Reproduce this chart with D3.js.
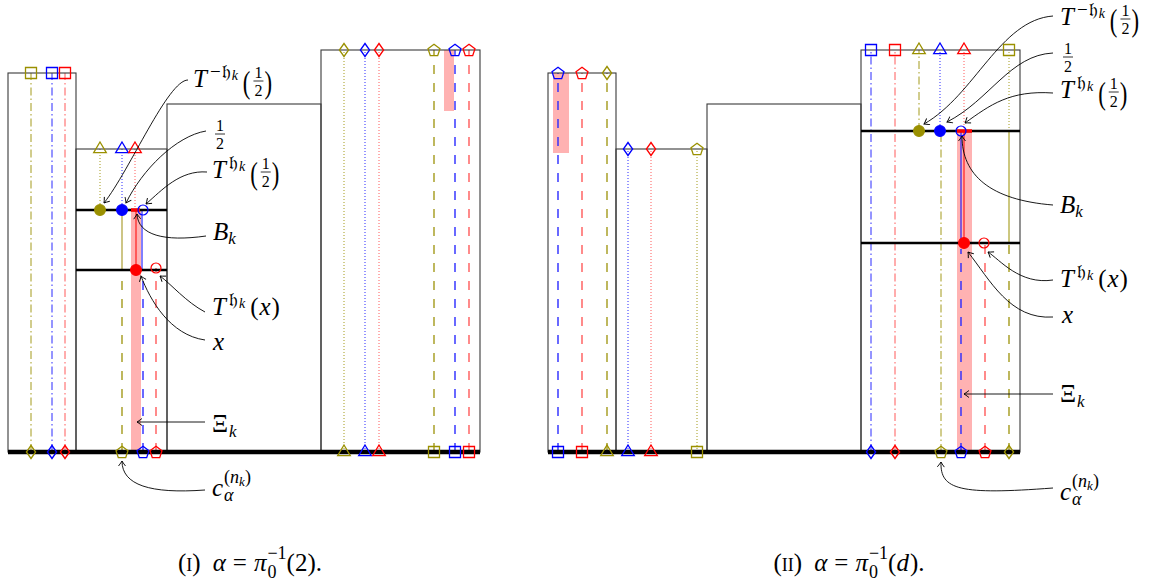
<!doctype html>
<html>

<head>
<meta charset="utf-8">
<style>
	body { margin: 0; background: #fff; }
	text { font-family: "Liberation Serif", "DejaVu Serif", serif; fill: #000; white-space: pre; }
</style>
</head>

<body>
	<div class="figure"></div>

	<script src="https://d3js.org/d3.v7.min.js"></script>
	<script>
		// tower columns (same staircase in both panels): x from left wall, h above the base
		let columns = [
			{ x0: 0, x1: 68, h: 379 },
			{ x0: 68, x1: 159, h: 303 },
			{ x0: 159, x1: 313, h: 348 },
			{ x0: 313, x1: 472, h: 402 }
		];

		// thick horizontal levels
		let levelsI = [{ x0: 68, x1: 159, h: 242 }, { x0: 68, x1: 159, h: 182 }];
		let levelsII = [{ x0: 313, x1: 472, h: 321 }, { x0: 313, x1: 472, h: 209 }];

		// vertical strings: x, from h0 to h1, colour, line style
		let stringsI = [
			{ x: 23, h0: 0, h1: 379, c: "olive", s: "dashdot" },
			{ x: 44, h0: 0, h1: 379, c: "blue", s: "dashdot" },
			{ x: 57, h0: 0, h1: 379, c: "red", s: "dashdot" },
			{ x: 92, h0: 242, h1: 303, c: "olive", s: "dotted" },
			{ x: 114, h0: 242, h1: 303, c: "blue", s: "dotted" },
			{ x: 127, h0: 242, h1: 303, c: "red", s: "dotted" },
			{ x: 114, h0: 182, h1: 242, c: "olive", s: "pale" },
			{ x: 128, h0: 182, h1: 242, c: "red", s: "solid" },
			{ x: 134, h0: 182, h1: 242, c: "blue", s: "solid" },
			{ x: 114, h0: 0, h1: 176, c: "olive", s: "dashed" },
			{ x: 135, h0: 0, h1: 176, c: "blue", s: "dashed" },
			{ x: 148, h0: 0, h1: 184, c: "red", s: "dashed" },
			{ x: 336, h0: 0, h1: 402, c: "olive", s: "dotted" },
			{ x: 357, h0: 0, h1: 402, c: "blue", s: "dotted" },
			{ x: 371, h0: 0, h1: 402, c: "red", s: "dotted" },
			{ x: 426, h0: 0, h1: 402, c: "olive", s: "dashed" },
			{ x: 447, h0: 0, h1: 402, c: "blue", s: "dashed" },
			{ x: 461, h0: 0, h1: 402, c: "red", s: "dashed" }
		];
		let stringsII = [
			{ x: 10, h0: 0, h1: 379, c: "blue", s: "dashed" },
			{ x: 34, h0: 0, h1: 379, c: "red", s: "dashed" },
			{ x: 59, h0: 0, h1: 379, c: "olive", s: "dashed" },
			{ x: 80, h0: 0, h1: 303, c: "blue", s: "dotted" },
			{ x: 103, h0: 0, h1: 303, c: "red", s: "dotted" },
			{ x: 149, h0: 0, h1: 303, c: "olive", s: "dotted" },
			{ x: 323, h0: 0, h1: 402, c: "blue", s: "dashdot" },
			{ x: 347, h0: 0, h1: 402, c: "red", s: "dashdot" },
			{ x: 371, h0: 321, h1: 402, c: "olive", s: "dashdot" },
			{ x: 392, h0: 321, h1: 402, c: "blue", s: "dotted" },
			{ x: 416, h0: 321, h1: 402, c: "red", s: "dotted" },
			{ x: 461, h0: 321, h1: 402, c: "olive", s: "dotted" },
			{ x: 461, h0: 209, h1: 321, c: "olive", s: "solid" },
			{ x: 461, h0: 0, h1: 209, c: "olive", s: "dashed" },
			{ x: 393, h0: 0, h1: 321, c: "olive", s: "dashdot" },
			{ x: 413, h0: 209, h1: 321, c: "blue", s: "solid" },
			{ x: 416, h0: 209, h1: 321, c: "red", s: "solid" },
			{ x: 413, h0: 0, h1: 203, c: "blue", s: "dashed" },
			{ x: 437, h0: 0, h1: 209, c: "red", s: "dashed" }
		];

		// end markers of the strings
		let markersI = [
			{ x: 23, h: 379, m: "square", c: "olive" }, { x: 44, h: 379, m: "square", c: "blue" }, { x: 57, h: 379, m: "square", c: "red" },
			{ x: 23, h: 0, m: "diamond", c: "olive" }, { x: 44, h: 0, m: "diamond", c: "blue" }, { x: 57, h: 0, m: "diamond", c: "red" },
			{ x: 92, h: 303, m: "triangle", c: "olive" }, { x: 114, h: 303, m: "triangle", c: "blue" }, { x: 127, h: 303, m: "triangle", c: "red" },
			{ x: 114, h: 0, m: "pentagon", c: "olive" }, { x: 135, h: 0, m: "pentagon", c: "blue" }, { x: 148, h: 0, m: "pentagon", c: "red" },
			{ x: 336, h: 402, m: "diamond", c: "olive" }, { x: 357, h: 402, m: "diamond", c: "blue" }, { x: 371, h: 402, m: "diamond", c: "red" },
			{ x: 426, h: 402, m: "pentagon", c: "olive" }, { x: 447, h: 402, m: "pentagon", c: "blue" }, { x: 461, h: 402, m: "pentagon", c: "red" },
			{ x: 336, h: 0, m: "triangle", c: "olive" }, { x: 357, h: 0, m: "triangle", c: "blue" }, { x: 371, h: 0, m: "triangle", c: "red" },
			{ x: 426, h: 0, m: "square", c: "olive" }, { x: 447, h: 0, m: "square", c: "blue" }, { x: 461, h: 0, m: "square", c: "red" }
		];
		let markersII = [
			{ x: 10, h: 379, m: "pentagon", c: "blue" }, { x: 34, h: 379, m: "pentagon", c: "red" }, { x: 59, h: 379, m: "diamond", c: "olive" },
			{ x: 10, h: 0, m: "square", c: "blue" }, { x: 34, h: 0, m: "square", c: "red" }, { x: 59, h: 0, m: "triangle", c: "olive" },
			{ x: 80, h: 303, m: "diamond", c: "blue" }, { x: 103, h: 303, m: "diamond", c: "red" }, { x: 149, h: 303, m: "pentagon", c: "olive" },
			{ x: 80, h: 0, m: "triangle", c: "blue" }, { x: 103, h: 0, m: "triangle", c: "red" }, { x: 149, h: 0, m: "square", c: "olive" },
			{ x: 323, h: 402, m: "square", c: "blue" }, { x: 347, h: 402, m: "square", c: "red" }, { x: 371, h: 402, m: "triangle", c: "olive" },
			{ x: 392, h: 402, m: "triangle", c: "blue" }, { x: 416, h: 402, m: "triangle", c: "red" }, { x: 461, h: 402, m: "square", c: "olive" },
			{ x: 323, h: 0, m: "diamond", c: "blue" }, { x: 347, h: 0, m: "diamond", c: "red" }, { x: 393, h: 0, m: "pentagon", c: "olive" },
			{ x: 413, h: 0, m: "pentagon", c: "blue" }, { x: 437, h: 0, m: "pentagon", c: "red" }, { x: 461, h: 0, m: "diamond", c: "olive" }
		];

		// points on the levels (filled / open)
		let dotsI = [
			{ x: 92, h: 242, c: "olive", open: false }, { x: 114, h: 242, c: "blue", open: false },
			{ x: 135, h: 242, c: "blue", open: true }, { x: 128, h: 182, c: "red", open: false },
			{ x: 148, h: 184, c: "red", open: true }
		];
		let dotsII = [
			{ x: 371, h: 321, c: "olive", open: false }, { x: 392, h: 321, c: "blue", open: false },
			{ x: 413, h: 321, c: "blue", open: true }, { x: 416, h: 209, c: "red", open: false },
			{ x: 436, h: 209, c: "red", open: true }
		];

		// B_k pieces and the shaded bands
		let barsI = [{ x0: 123, x1: 132, h: 242 }];
		let barsII = [{ x0: 409, x1: 424, h: 321 }];
		let bandsI = [{ x0: 123, x1: 133, h0: 0, h1: 242 }, { x0: 436, x1: 446, h0: 341, h1: 402 }];
		let bandsII = [{ x0: 5, x1: 21, h0: 299, h1: 379 }, { x0: 409, x1: 424, h0: 0, h1: 321 }];

		// callouts: label position and arrow (start, two controls, tip) in tower units
		let calloutsI = [
			{ k: "Tinv", at: [185, 365], p: [[180, 372], [160, 372], [122, 282], [96, 249]] },
			{ k: "half", at: [207, 318], p: [[198, 321], [168, 316], [134, 282], [118, 249]] },
			{ k: "Tfwd", at: [204, 274], p: [[199, 280], [172, 282], [154, 262], [138, 248]] },
			{ k: "Bk", at: [205, 212], p: [[198, 216], [156, 210], [130, 217], [129, 238]] },
			{ k: "TfwdX", at: [204, 137], p: [[197, 140], [178, 150], [163, 168], [152, 176]] },
			{ k: "x", at: [205, 102], p: [[197, 112], [162, 117], [142, 152], [133, 176]] },
			{ k: "Xi", at: [204, 20], p: [[197, 30], null, null, [129, 30]] },
			{ k: "c", at: [204, -44], p: [[197, -38], [142, -42], [114, -33], [114, -9]] }
		];
		let calloutsII = [
			{ k: "Tinv", at: [512, 427], p: [[505, 436], [452, 432], [427, 357], [376, 328]] },
			{ k: "half", at: [515, 395], p: [[505, 399], [462, 397], [442, 352], [399, 330]] },
			{ k: "Tfwd", at: [512, 354], p: [[505, 359], [462, 362], [442, 347], [417, 329]] },
			{ k: "Bk", at: [512, 239], p: [[505, 247], [442, 252], [414, 277], [414, 316]] },
			{ k: "TfwdX", at: [512, 165], p: [[505, 172], [472, 167], [452, 192], [440, 200]] },
			{ k: "x", at: [514, 129], p: [[505, 135], [462, 132], [442, 172], [420, 200]] },
			{ k: "Xi", at: [512, 50], p: [[505, 58], null, null, [416, 58]] },
			{ k: "c", at: [512, -48], p: [[505, -36], [412, -43], [392, -38], [393, -10]] }
		];

		let ink = { olive: "#9a9000", blue: "#0000ff", red: "#ff0000" };
		let thread = { olive: "#a39a1a", blue: "#2a2aff", red: "#ff5a5a" };
		let dashes = { dashdot: "8,3,1.5,3", dashed: "9,9", dotted: "1,2", solid: null, pale: null };
		let serif = '"Liberation Serif", "DejaVu Serif", serif';

		let svg = d3.select(".figure")
			.append("svg")
			.attr("width", 1162)
			.attr("height", 585)
			.style("background-color", "white");

		svg.append("defs").append("marker")
			.attr("id", "tip")
			.attr("markerUnits", "userSpaceOnUse")
			.attr("markerWidth", 12).attr("markerHeight", 12)
			.attr("refX", 0).attr("refY", 0)
			.attr("viewBox", "-7 -6 8 12")
			.attr("orient", "auto")
			.append("path")
			.attr("d", "M-5,-3.5 Q-1.5,-0.8 0,0 Q-1.5,0.8 -5,3.5")
			.attr("fill", "none").attr("stroke", "#000").attr("stroke-width", 0.9);

		let y = d3.scaleLinear().domain([0, 402]).range([452, 50]);

		let panels = [
			{ x: d3.scaleLinear().domain([0, 472]).range([8, 480]), levels: levelsI, strings: stringsI, markers: markersI, dots: dotsI, bars: barsI, bands: bandsI, callouts: calloutsI },
			{ x: d3.scaleLinear().domain([0, 472]).range([548, 1020]), levels: levelsII, strings: stringsII, markers: markersII, dots: dotsII, bars: barsII, bands: bandsII, callouts: calloutsII }
		];

		function shape(m) {
			if (m === "square") return "M-5.5,-5.5H5.5V5.5H-5.5Z";
			if (m === "diamond") return "M0,-6.5L4.6,0L0,6.5L-4.6,0Z";
			if (m === "triangle") return "M0,-7L6.3,3.6L-6.3,3.6Z";
			let pts = d3.range(5).map(i => {
				let a = -Math.PI / 2 + i * 2 * Math.PI / 5;
				return [6.3 * Math.cos(a), 0.6 + 6.3 * Math.sin(a)];
			});
			return "M" + pts.map(p => p.join(",")).join("L") + "Z";
		}

		// little typesetter: pieces laid out left to right, returns end x
		function typeset(g, x0, base, pieces) {
			let cx = x0;
			pieces.forEach(p => {
				if (p.gap) { cx += p.gap; return; }
				if (p.frac) {
					let axis = base + (p.dy || 0);
					let num = g.append("text").attr("y", axis - 3.5).style("font-family", serif).style("font-size", p.size + "px").text(p.frac[0]);
					let den = g.append("text").attr("y", axis + 15).style("font-family", serif).style("font-size", p.size + "px").text(p.frac[1]);
					let w = Math.max(num.node().getComputedTextLength(), den.node().getComputedTextLength()) + 2;
					num.attr("x", cx + w / 2).attr("text-anchor", "middle");
					den.attr("x", cx + w / 2).attr("text-anchor", "middle");
					g.append("line").attr("x1", cx).attr("x2", cx + w).attr("y1", axis).attr("y2", axis)
						.attr("stroke", "#000").attr("stroke-width", 0.8);
					cx += w + 1;
					return;
				}
				if (p.stack) {
					let a = typeset(g, cx, base, p.stack[0]);
					let b = typeset(g, cx, base, p.stack[1]);
					cx = Math.max(a, b);
					return;
				}
				let t = g.append("text")
					.style("font-family", serif)
					.style("font-size", p.size + "px")
					.style("font-style", p.it ? "italic" : "normal")
					.text(p.t);
				if (p.sy) {
					t.attr("transform", `translate(${cx},${base + (p.dy || 0)}) scale(${p.sx},${p.sy})`);
					cx += t.node().getComputedTextLength() * p.sx + (p.kern || 0);
				} else {
					t.attr("x", cx).attr("y", base + (p.dy || 0));
					cx += t.node().getComputedTextLength() + (p.kern || 0);
				}
			});
			return cx;
		}

		let bigOpen = { t: "(", size: 24, sx: 0.95, sy: 1.3, dy: 6, kern: 3 };
		let bigClose = { t: ")", size: 24, sx: 0.95, sy: 1.3, dy: 6 };
		let half = { frac: ["1", "2"], size: 16, dy: -6 };
		let hk = [{ t: "\u{1D525}", size: 19, dy: -9, kern: 1 }, { t: "k", size: 14, it: true, dy: -7, kern: 5 }];
		let labels = {
			Tinv: [{ t: "T", size: 25, it: true, kern: 3 }, { t: "\u2212", size: 19, dy: -9, kern: 1 }].concat(hk, [bigOpen, half, bigClose]),
			half: [{ frac: ["1", "2"], size: 16, dy: 0 }],
			Tfwd: [{ t: "T", size: 25, it: true, kern: 3 }].concat(hk, [bigOpen, half, bigClose]),
			Bk: [{ t: "B", size: 25, it: true }, { t: "k", size: 17, it: true, dy: 4 }],
			TfwdX: [{ t: "T", size: 25, it: true, kern: 3 }].concat(hk, [{ t: "(", size: 25, kern: 1 }, { t: "x", size: 25, it: true, kern: 1 }, { t: ")", size: 25 }]),
			x: [{ t: "x", size: 25, it: true }],
			Xi: [{ t: "\u039E", size: 25, kern: 1 }, { t: "k", size: 17, it: true, dy: 5 }],
			c: [{ t: "c", size: 25, it: true, kern: 1 }, {
				stack: [
					[{ t: "(", size: 18, dy: -13 }, { t: "n", size: 18, it: true, dy: -13 }, { t: "k", size: 13, it: true, dy: -10 }, { t: ")", size: 18, dy: -13 }],
					[{ t: "\u03B1", size: 18, it: true, dy: 5 }]
				]
			}]
		};

		panels.forEach(P => {
			let x = P.x;
			let g = svg.append("g");

			g.selectAll(".band").data(P.bands).enter().append("rect")
				.attr("x", d => x(d.x0)).attr("width", d => x(d.x1) - x(d.x0))
				.attr("y", d => y(d.h1)).attr("height", d => y(d.h0) - y(d.h1))
				.attr("fill", "#ffb2b2");

			g.selectAll(".string").data(P.strings).enter().append("line")
				.attr("x1", d => x(d.x)).attr("x2", d => x(d.x))
				.attr("y1", d => y(d.h0)).attr("y2", d => y(d.h1))
				.attr("stroke", d => d.s === "pale" ? "#cdc585" : (d.s === "solid" ? ink[d.c] : thread[d.c]))
				.attr("stroke-width", d => d.s === "pale" ? 2 : (d.s === "dashed" ? 1.4 : 1))
				.attr("stroke-dasharray", d => dashes[d.s]);

			g.selectAll(".col").data(columns).enter().append("rect")
				.attr("x", d => x(d.x0)).attr("width", d => x(d.x1) - x(d.x0))
				.attr("y", d => y(d.h)).attr("height", d => y(0) - y(d.h))
				.attr("fill", "none").attr("stroke", "#3a3a3a").attr("stroke-width", 1.1);

			g.selectAll(".level").data(P.levels).enter().append("line")
				.attr("x1", d => x(d.x0)).attr("x2", d => x(d.x1))
				.attr("y1", d => y(d.h)).attr("y2", d => y(d.h))
				.attr("stroke", "#000").attr("stroke-width", 2.5);

			g.append("line")
				.attr("x1", x(0)).attr("x2", x(472)).attr("y1", y(0)).attr("y2", y(0))
				.attr("stroke", "#000").attr("stroke-width", 4.5);

			g.selectAll(".bar").data(P.bars).enter().append("line")
				.attr("x1", d => x(d.x0)).attr("x2", d => x(d.x1))
				.attr("y1", d => y(d.h)).attr("y2", d => y(d.h))
				.attr("stroke", ink.red).attr("stroke-width", 3.5);

			g.selectAll(".dot").data(P.dots).enter().append("circle")
				.attr("cx", d => x(d.x)).attr("cy", d => y(d.h))
				.attr("r", d => d.open ? 5 : 5.4)
				.attr("fill", d => d.open ? "none" : ink[d.c])
				.attr("stroke", d => ink[d.c]).attr("stroke-width", 1.2);

			g.selectAll(".mark").data(P.markers).enter().append("path")
				.attr("transform", d => `translate(${x(d.x)},${y(d.h)})`)
				.attr("d", d => shape(d.m))
				.attr("fill", "none").attr("stroke", d => ink[d.c]).attr("stroke-width", 1.3);

			P.callouts.forEach(cl => {
				let p = cl.p.map(q => q && [x(q[0]), y(q[1])]);
				let d = p[1] ? `M${p[0]}C${p[1]} ${p[2]} ${p[3]}` : `M${p[0]}L${p[3]}`;
				g.append("path").attr("d", d).attr("fill", "none")
					.attr("stroke", "#000").attr("stroke-width", 0.9).attr("marker-end", "url(#tip)");
				typeset(g.append("g"), x(cl.at[0]), y(cl.at[1]), labels[cl.k]);
			});
		});

		// captions under the panels
		let captions = [
			{ cx: 250, tag: "I", arg: [{ t: "2", size: 25 }] },
			{ cx: 849, tag: "II", arg: [{ t: "d", size: 25, it: true, kern: 1 }] }
		];
		captions.forEach(cp => {
			let g = svg.append("g");
			let end = typeset(g, 0, 571, [
				{ t: "(", size: 25 }, { t: cp.tag, size: 18 }, { t: ")", size: 25 }, { gap: 12 },
				{ t: "\u03B1", size: 25, it: true }, { gap: 7 }, { t: "=", size: 25 }, { gap: 7 }, { t: "\u03C0", size: 25, it: true, kern: 1 },
				{ stack: [[{ t: "\u22121", size: 18, dy: -12 }], [{ t: "0", size: 18, dy: 7 }]] },
				{ t: "(", size: 25 }].concat(cp.arg, [{ t: ").", size: 25 }]));
			g.attr("transform", `translate(${cp.cx - end / 2},0)`);
		});
	</script>

</body>

</html>
